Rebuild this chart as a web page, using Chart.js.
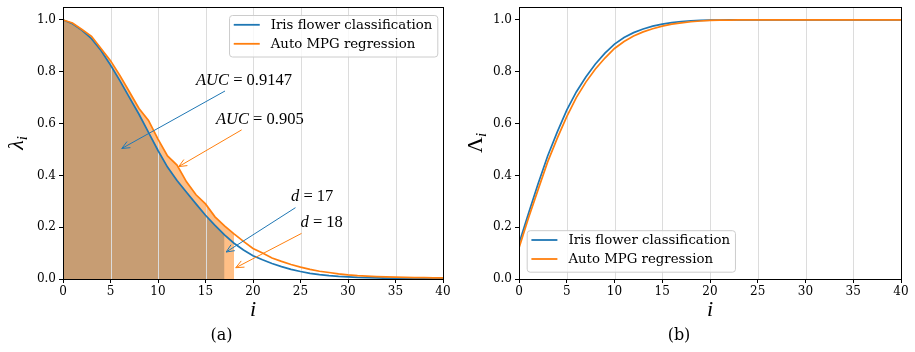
<!DOCTYPE html>
<html>
<head>
<meta charset="utf-8">
<script src="https://cdn.jsdelivr.net/npm/chart.js@4.4.1/dist/chart.umd.min.js"></script>
<style>
  body { margin: 0; background: #fff; }
  .wrap { display: flex; width: 915px; height: 352px; }
  canvas { display: block; }
</style>
</head>
<body>
<div class="wrap">
  <canvas id="lambda_chart" width="457" height="352"></canvas>
  <canvas id="cum_chart" width="458" height="352"></canvas>
</div>
<script>
const steps = [0, 1, 2, 3, 4, 5, 6, 7, 8, 9, 10, 11, 12, 13, 14, 15, 16, 17, 18, 19, 20,
  21, 22, 23, 24, 25, 26, 27, 28, 29, 30, 31, 32, 33, 34, 35, 36, 37, 38, 39, 40];

const iris_lambda = [1.0, 0.985, 0.96, 0.928, 0.882, 0.826, 0.765, 0.70, 0.636, 0.566, 0.496,
  0.432, 0.38, 0.335, 0.29, 0.246, 0.207, 0.17, 0.138, 0.112, 0.09,
  0.074, 0.06, 0.048, 0.037, 0.029, 0.022, 0.017, 0.013, 0.010, 0.008,
  0.006, 0.005, 0.004, 0.003, 0.0025, 0.002, 0.0017, 0.0014, 0.0012, 0.001];

const mpg_lambda = [1.0, 0.988, 0.963, 0.937, 0.89, 0.843, 0.785, 0.722, 0.658, 0.612, 0.54,
  0.475, 0.44, 0.375, 0.325, 0.29, 0.24, 0.205, 0.174, 0.145, 0.118,
  0.1, 0.081, 0.068, 0.056, 0.046, 0.037, 0.030, 0.025, 0.020, 0.016,
  0.013, 0.011, 0.0095, 0.008, 0.007, 0.006, 0.0055, 0.005, 0.0045, 0.004];

const iris_cum = [0.137, 0.254, 0.368, 0.475, 0.567, 0.652, 0.722, 0.78, 0.83, 0.872, 0.907,
  0.932, 0.951, 0.965, 0.976, 0.984, 0.99, 0.994, 0.997, 0.998, 0.999,
  0.9995, 1.0, 1.0, 1.0, 1.0, 1.0, 1.0, 1.0, 1.0, 1.0,
  1.0, 1.0, 1.0, 1.0, 1.0, 1.0, 1.0, 1.0, 1.0, 1.0];

const mpg_cum = [0.12, 0.236, 0.345, 0.452, 0.543, 0.627, 0.70, 0.76, 0.811, 0.853, 0.89,
  0.917, 0.938, 0.954, 0.966, 0.976, 0.984, 0.989, 0.993, 0.996, 0.998,
  0.999, 0.9995, 1.0, 1.0, 1.0, 1.0, 1.0, 1.0, 1.0, 1.0,
  1.0, 1.0, 1.0, 1.0, 1.0, 1.0, 1.0, 1.0, 1.0, 1.0];

const iris_dim = 17;
const mpg_dim = 18;
const auc_values = ["0.9147", "0.905"];
const series_labels = ["Iris flower classification", "Auto MPG regression"];
const captions = ["(a)", "(b)"];

const C0 = "#1f77b4";
const C1 = "#ff7f0e";
const tick_font = { family: "DejaVu Serif", size: 12 };

const pts = (ys, n) => ys.slice(0, n === undefined ? ys.length : n).map((v, k) => ({ x: steps[k], y: v }));

// grid lines on top of the fills, under the curves (like mpl zorder)
const vgrid = {
  id: "vgrid",
  beforeDatasetsDraw(chart) {
    const { ctx, chartArea: a, scales: { x } } = chart;
    ctx.save();
    ctx.strokeStyle = "#dcdcdc";
    ctx.lineWidth = 1;
    x.ticks.forEach((t) => {
      const px = Math.round(x.getPixelForValue(t.value)) + 0.5;
      if (px <= a.left + 1 || px >= a.right - 1) return;
      ctx.beginPath();
      ctx.moveTo(px, a.top);
      ctx.lineTo(px, a.bottom);
      ctx.stroke();
    });
    ctx.restore();
  },
};

function drawMath(ctx, parts, x, y, size) {
  let cx = x;
  parts.forEach(([txt, style]) => {
    ctx.font = `${style} ${size}px "Liberation Serif"`;
    ctx.fillText(txt, cx, y);
    cx += ctx.measureText(txt).width;
  });
  return cx - x;
}

const notes_plugin = {
  id: "notes",
  afterDatasetsDraw(chart, args, opts) {
    const { ctx, scales: { x, y } } = chart;
    const size = 16.5;
    ctx.save();
    ctx.fillStyle = "#000";
    ctx.textBaseline = "alphabetic";
    (opts.items || []).forEach((n) => {
      const tx = x.getPixelForValue(n.xytext[0]);
      const ty = y.getPixelForValue(n.xytext[1]);
      const w = drawMath(ctx, n.parts, tx, ty, size);
      const pad = 2;
      const bx0 = tx - pad, bx1 = tx + w + pad;
      const by0 = ty - 0.72 * size - pad, by1 = ty + 0.2 * size + pad;
      const cx = (bx0 + bx1) / 2, cy = (by0 + by1) / 2;
      const hx = x.getPixelForValue(n.xy[0]);
      const hy = y.getPixelForValue(n.xy[1]);
      const dx = hx - cx, dy = hy - cy;
      const tX = dx !== 0 ? (bx1 - bx0) / 2 / Math.abs(dx) : Infinity;
      const tY = dy !== 0 ? (by1 - by0) / 2 / Math.abs(dy) : Infinity;
      const t0 = Math.min(tX, tY);
      const len = Math.hypot(dx, dy);
      const ux = dx / len, uy = dy / len;
      const sx = cx + dx * t0 + ux * 2, sy = cy + dy * t0 + uy * 2;
      const ex = hx - ux * 2, ey = hy - uy * 2;
      const L = 8, W = 3.5;
      ctx.strokeStyle = n.color;
      ctx.lineWidth = 1;
      ctx.beginPath();
      ctx.moveTo(sx, sy);
      ctx.lineTo(ex, ey);
      ctx.moveTo(ex - ux * L - uy * W, ey - uy * L + ux * W);
      ctx.lineTo(ex, ey);
      ctx.lineTo(ex - ux * L + uy * W, ey - uy * L - ux * W);
      ctx.stroke();
    });
    ctx.restore();
  },
};

const frame_plugin = {
  id: "frame",
  afterDatasetsDraw(chart) {
    const { ctx, chartArea: a } = chart;
    ctx.save();
    ctx.strokeStyle = "#000";
    ctx.lineWidth = 1;
    ctx.strokeRect(Math.round(a.left) + 0.5, Math.round(a.top) + 0.5,
      Math.round(a.right - a.left), Math.round(a.bottom - a.top));
    ctx.restore();
  },
};

const box_legend = {
  id: "boxLegend",
  afterDraw(chart, args, opts) {
    const { ctx, chartArea: a } = chart;
    const items = chart.data.datasets.filter((d) => d.label);
    ctx.save();
    ctx.font = '13.3px "DejaVu Serif"';
    const tw = Math.max(...items.map((d) => ctx.measureText(d.label).width));
    const w = 4.7 + 26 + 11 + tw + 5;
    const h = 41.5;
    let bx, by;
    if (opts.corner === "ur") {
      bx = a.right - 5.7 - w;
      by = a.top + 8;
    } else {
      bx = a.left + 7.7;
      by = a.bottom - 7.3 - h;
    }
    ctx.beginPath();
    ctx.roundRect(bx + 0.5, by + 0.5, w, h, 3);
    ctx.fillStyle = "rgba(255,255,255,0.8)";
    ctx.fill();
    ctx.strokeStyle = "#cccccc";
    ctx.lineWidth = 1;
    ctx.stroke();
    ctx.textBaseline = "middle";
    ctx.fillStyle = "#000";
    items.forEach((d, k) => {
      const ry = by + 9.8 + 19 * k;
      ctx.strokeStyle = d.borderColor;
      ctx.lineWidth = 1.8;
      ctx.beginPath();
      ctx.moveTo(bx + 4.7, ry);
      ctx.lineTo(bx + 30.7, ry);
      ctx.stroke();
      ctx.fillText(d.label, bx + 41.7, ry + 1);
    });
    ctx.restore();
  },
};

const ytitle_plugin = {
  id: "ytitle",
  afterDraw(chart, args, opts) {
    const { ctx, chartArea: a } = chart;
    ctx.save();
    ctx.translate(opts.baseX, (a.top + a.bottom) / 2);
    ctx.rotate(-Math.PI / 2);
    ctx.fillStyle = "#000";
    ctx.textBaseline = "alphabetic";
    ctx.font = `${opts.style} 22px "Liberation Serif"`;
    const mw = ctx.measureText(opts.main).width;
    ctx.font = 'italic 15px "Liberation Serif"';
    const sw = ctx.measureText(opts.sub).width;
    const x0 = -(mw + sw) / 2;
    ctx.font = `${opts.style} 22px "Liberation Serif"`;
    ctx.fillText(opts.main, x0, 0);
    ctx.font = 'italic 15px "Liberation Serif"';
    ctx.fillText(opts.sub, x0 + mw, 4);
    ctx.restore();
  },
};

function make_options(caption, y_width, legend_corner, ytitle, notes) {
  return {
    responsive: false,
    animation: false,
    devicePixelRatio: 1,
    layout: { padding: { top: 7, right: 14, left: 0, bottom: 0 } },
    elements: { point: { radius: 0 }, line: { tension: 0, borderWidth: 1.7 } },
    scales: {
      x: {
        type: "linear",
        min: 0,
        max: 40,
        ticks: { stepSize: 5, includeBounds: false, font: tick_font, color: "#000", padding: 2, maxRotation: 0 },
        grid: { drawOnChartArea: false, tickLength: 4, tickColor: "#000", tickWidth: 1 },
        border: { display: false },
        title: {
          display: true,
          text: "i",
          color: "#000",
          font: { family: "Liberation Serif", size: 22, style: "italic" },
          padding: { top: 0, bottom: 2 },
        },
        afterFit: (s) => {
          s.height = 46.8;
          s.paddingLeft = 0;
          s.paddingRight = 0;
        },
      },
      y: {
        min: 0,
        max: 1.05,
        ticks: {
          stepSize: 0.2,
          includeBounds: false,
          font: tick_font,
          color: "#000",
          padding: 3,
          callback: (v) => v.toFixed(1),
        },
        grid: { drawOnChartArea: false, tickLength: 4, tickColor: "#000", tickWidth: 1 },
        border: { display: false },
        afterFit: (s) => {
          s.width = y_width;
          s.paddingTop = 0;
          s.paddingBottom = 0;
        },
      },
    },
    plugins: {
      legend: { display: false },
      tooltip: { enabled: false },
      filler: { drawTime: "beforeDatasetsDraw" },
      title: {
        display: true,
        position: "bottom",
        text: caption,
        color: "#000",
        font: { family: "DejaVu Serif", size: 16, weight: "normal" },
        padding: { top: 0, bottom: 7 },
      },
      boxLegend: { corner: legend_corner },
      ytitle: ytitle,
      notes: { items: notes },
    },
  };
}

const notes = [
  { parts: [["AUC", "italic"], [" = " + auc_values[0], "normal"]], xy: [6, 0.5], xytext: [14, 0.75], color: C0 },
  { parts: [["AUC", "italic"], [" = " + auc_values[1], "normal"]], xy: [12, 0.43], xytext: [16.1, 0.6], color: C1 },
  { parts: [["d", "italic"], [" = " + iris_dim, "normal"]], xy: [iris_dim, 0.1], xytext: [24, 0.3], color: C0 },
  { parts: [["d", "italic"], [" = " + mpg_dim, "normal"]], xy: [mpg_dim, 0.04], xytext: [25, 0.2], color: C1 },
];

const lc = new Chart(document.getElementById("lambda_chart"), {
  type: "line",
  data: {
    datasets: [
      { label: series_labels[0], data: pts(iris_lambda), borderColor: C0, fill: false, order: 2 },
      { label: series_labels[1], data: pts(mpg_lambda), borderColor: C1, fill: false, order: 1 },
      {
        data: pts(mpg_lambda, mpg_dim + 1),
        borderWidth: 0,
        borderColor: "rgba(0,0,0,0)",
        backgroundColor: "rgba(255,127,14,0.5)",
        fill: "origin",
        order: 3,
      },
      {
        data: pts(iris_lambda, iris_dim + 1),
        borderWidth: 0,
        borderColor: "rgba(0,0,0,0)",
        backgroundColor: "rgba(31,119,180,0.5)",
        fill: "origin",
        order: 4,
      },
    ],
  },
  options: make_options(captions[0], 63, "ur", { baseX: 23, main: "λ", style: "italic", sub: "i" }, notes),
  plugins: [vgrid, notes_plugin, frame_plugin, box_legend, ytitle_plugin],
});

const cc = new Chart(document.getElementById("cum_chart"), {
  type: "line",
  data: {
    datasets: [
      { label: series_labels[0], data: pts(iris_cum), borderColor: C0, fill: false, order: 2 },
      { label: series_labels[1], data: pts(mpg_cum), borderColor: C1, fill: false, order: 1 },
    ],
  },
  options: make_options(captions[1], 62, "ll", { baseX: 25, main: "Λ", style: "normal", sub: "i" }, []),
  plugins: [vgrid, frame_plugin, box_legend, ytitle_plugin],
});
</script>
</body>
</html>
